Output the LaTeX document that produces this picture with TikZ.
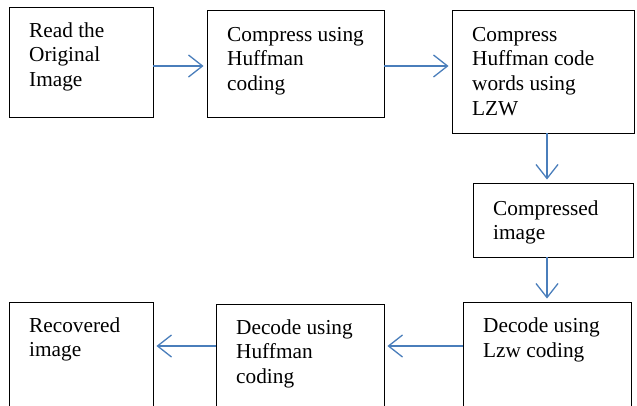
\documentclass[tikz,border=0pt]{standalone}
\usepackage{fontspec}
\setmainfont{Liberation Serif}
\usetikzlibrary{arrows.meta}
\definecolor{arrowblue}{RGB}{74,126,187}
\begin{document}
\begin{tikzpicture}[x=1pt,y=-1pt,
  box/.style={draw=black, line width=0.9pt, inner sep=0pt, fill=none},
  txt/.style={anchor=base west, inner sep=0pt, align=left, font=\fontsize{21.3}{24.8}\selectfont},
  link/.style={draw=arrowblue, line width=1.3pt, -{Straight Barb[length=14pt,width=22pt]}, shorten >=3pt}]
\useasboundingbox (0,0) rectangle (637,405);
\clip (0,0) rectangle (637,405);
% boxes
\node[box, minimum width=144pt, minimum height=110pt] (b1) at (81,62) {};
\node[box, minimum width=177pt, minimum height=107pt] (b2) at (295.5,63.5) {};
\node[box, minimum width=182pt, minimum height=123pt] (b3) at (543,71.5) {};
\node[box, minimum width=160pt, minimum height=74pt] (b4) at (553,220) {};
\node[box, minimum width=168pt, minimum height=123pt] (b5) at (547,363.5) {};
\node[box, minimum width=168pt, minimum height=121pt] (b6) at (300,364.5) {};
\node[box, minimum width=144pt, minimum height=123pt] (b7) at (81,363.5) {};
% texts (anchor = baseline of the last line)
\node[txt] (t1) at (29,86.6) {Read the\\Original\\Image};
\node[txt] (t2) at (227,90.6) {Compress using\\Huffman\\coding};
\node[txt] (t3) at (472,115.4) {Compress\\Huffman code\\words using\\LZW};
\node[txt] (t4) at (493,239.8) {Compressed\\image};
\node[txt] (t5) at (483,357.3) {Decode using\\Lzw coding};
\node[txt] (t6) at (236,383.6) {Decode using\\Huffman\\coding};
\node[txt] (t7) at (29,356.8) {Recovered\\image};
% guide coordinates
\coordinate (r1) at (0,66);
\coordinate (r2) at (0,346);
\coordinate (vx) at (547,0);
% connectors
\draw[link] (b1.east |- r1) -- (b2.west |- r1);
\draw[link] (b2.east |- r1) -- (b3.west |- r1);
\draw[link] (b3.south -| vx) -- (b4.north -| vx);
\draw[link] (b4.south -| vx) -- (b5.north -| vx);
\draw[link] (b5.west |- r2) -- (b6.east |- r2);
\draw[link] (b6.west |- r2) -- (b7.east |- r2);
\end{tikzpicture}
\end{document}
